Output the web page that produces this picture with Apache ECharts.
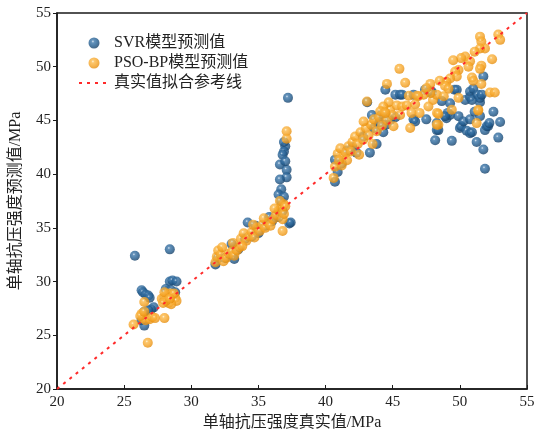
<!DOCTYPE html>
<html>
<head>
<meta charset="utf-8">
<script src="https://cdn.jsdelivr.net/npm/echarts@6/dist/echarts.min.js"></script>
<style>
  html, body { margin: 0; padding: 0; background: #fff; }
  #chart { width: 541px; height: 436px; }
</style>
</head>
<body>
<div id="chart"></div>
<script>
// Measured vs. predicted uniaxial compressive strength (MPa)
const seriesNames = ['SVR模型预测值', 'PSO-BP模型预测值', '真实值拟合参考线'];
const axisTicks = [20, 25, 30, 35, 40, 45, 50, 55];

// SVR model: [measured, predicted]
const svrPoints = [
  [25.8,32.4],[28.4,33.0],
  [26.3,29.2],[26.4,29.0],[26.6,28.8],[26.8,28.7],[26.9,28.5],
  [28.4,30.0],[28.6,30.1],[28.9,30.0],[28.1,29.3],[28.2,29.1],[28.5,29.2],[28.8,29.0],
  [27.2,27.6],[27.0,27.4],[26.5,25.9],[26.5,27.2],[26.8,27.3],[26.3,26.4],[28.0,28.3],
  [31.8,31.6],[32.0,32.2],[32.5,32.2],[33.0,32.5],[33.2,32.1],[33.5,33.0],[33.0,33.5],
  [34.0,34.0],[34.2,35.5],[34.5,34.2],[35.0,34.5],[35.5,35.2],[36.0,35.6],[36.5,36.0],
  [36.8,36.6],[37.3,35.4],[37.4,35.5],[34.8,35.2],[35.8,36.0],
  [37.2,47.1],[37.0,42.6],[36.9,42.1],[36.8,41.8],[36.6,40.9],[37.1,40.4],[37.1,39.7],
  [36.6,39.5],[36.7,38.6],[36.5,38.1],[36.7,37.5],[36.9,37.9],[37.0,41.2],[36.9,43.0],
  [40.7,39.3],[40.7,41.35],[40.9,40.2],[41.2,41.0],[41.6,42.2],[42.0,42.5],[42.3,42.0],
  [43.3,42.0],[43.1,46.7],[43.45,45.5],[42.8,43.5],[43.6,44.3],[44.0,44.8],[44.3,43.9],
  [44.5,44.6],[44.8,45.0],[45.2,45.3],[44.2,45.6],[43.8,42.8],
  [44.45,47.85],[45.2,47.4],[45.55,47.4],[45.7,47.4],[46.55,47.4],[46.55,45.1],[46.67,44.9],
  [47.5,45.1],[47.4,47.85],[47.9,47.7],[48.28,44.75],[48.28,44.1],[48.16,43.15],[48.65,46.8],
  [49.0,45.2],[49.1,45.7],[49.27,46.6],[49.27,45.5],[49.4,43.1],[49.6,47.85],[49.77,47.85],
  [49.9,45.4],[50.0,44.3],[50.1,44.45],[50.26,44.9],[50.4,46.9],[50.5,44.05],[50.76,47.2],
  [50.76,47.7],[50.76,45.1],[50.76,43.8],[50.9,43.9],[50.9,46.9],[51.0,47.95],[51.1,45.8],
  [51.25,43.0],[51.35,47.4],[51.5,46.7],[51.5,47.1],[51.5,45.4],[51.63,47.4],[51.75,49.1],
  [51.75,42.3],[51.87,40.5],[51.87,44.1],[52.0,44.45],[52.1,44.45],[52.2,44.75],[52.5,45.8],
  [52.86,43.4],[53.0,44.85],[48.4,44.1],[48.9,45.4],[47.9,47.55]
];

// PSO-BP model: [measured, predicted]
const bpPoints = [
  [26.5,28.1],[26.76,24.3],[25.7,26.0],[28.0,26.6],[26.3,27.0],[26.4,26.6],[26.6,26.4],
  [26.9,26.5],[27.1,26.7],[27.3,26.6],[26.2,26.8],[26.5,27.2],[27.8,28.4],[28.0,28.6],
  [28.2,28.8],[28.4,28.9],[28.6,28.7],[28.8,28.5],[28.9,28.2],[28.3,28.0],[28.5,27.9],
  [28.1,28.2],[27.9,28.0],[28.7,28.9],[28.0,29.0],[28.4,28.4],
  [31.8,31.8],[31.9,32.3],[32.0,32.9],[32.2,32.5],[32.4,31.9],[32.6,32.2],[32.8,32.6],
  [33.0,32.8],[33.2,32.4],[33.4,32.9],[33.6,33.2],[33.1,33.6],[33.7,34.0],[33.9,34.5],
  [34.1,33.8],[34.3,34.2],[34.5,34.6],[34.7,34.1],[34.9,35.0],[35.1,34.7],[35.3,35.3],
  [35.5,35.0],[35.7,35.5],[35.9,35.2],[36.1,35.8],[36.3,36.2],[36.5,36.6],[36.7,36.9],
  [36.9,37.2],[36.6,37.5],[36.2,36.8],[35.4,35.9],[34.6,35.3],[33.8,33.3],[32.3,33.2],
  [36.8,34.7],[36.8,35.8],[37.1,44.0],[37.1,43.3],[36.9,36.3],[37.0,37.0],
  [40.6,39.65],[40.7,40.7],[40.9,41.9],[41.1,42.4],[41.3,41.6],[41.5,42.0],[41.7,42.6],
  [41.9,42.1],[41.2,40.8],[41.6,41.3],[42.0,43.0],[42.2,43.5],[42.4,42.8],[42.6,43.9],
  [42.8,43.2],[43.0,44.3],[43.2,43.6],[43.4,44.6],[43.6,45.1],[43.8,44.0],[44.0,45.3],
  [44.2,44.5],[44.4,45.8],[44.6,45.0],[44.8,46.0],[45.0,45.5],[43.08,46.77],[42.83,44.9],
  [45.06,44.45],[46.3,44.3],[42.5,41.8],[41.0,41.3],[43.5,42.8],
  [44.57,48.4],[45.93,48.5],[46.2,47.3],[46.8,47.3],[44.7,46.7],[44.3,46.3],[44.07,45.85],
  [44.45,45.7],[45.3,46.4],[45.7,46.3],[46.05,46.4],[46.4,45.7],[47.0,45.7],[48.0,46.9],
  [48.3,45.7],[48.4,44.6],[49.4,46.0],[49.9,47.1],[51.37,46.0],[51.25,44.75],[52.24,47.6],
  [52.6,47.6],[52.86,53.0],[53.0,52.5],[51.5,52.8],[51.6,52.35],[51.87,51.7],[51.5,51.7],
  [51.1,51.4],[50.4,50.95],[50.1,50.8],[49.5,50.6],[52.4,50.7],[50.76,50.5],[50.64,50.0],
  [51.6,50.1],[51.5,49.8],[49.9,49.7],[49.65,49.55],[49.77,49.1],[49.27,48.9],[50.9,49.0],
  [51.0,48.7],[51.6,48.4],[49.0,48.6],[48.5,48.7],[48.9,48.2],[47.8,48.4],[49.15,47.95],
  [48.28,47.4],[48.8,47.25],[47.8,47.55],[47.3,47.4],[46.9,47.25],[46.67,46.5],[47.66,46.3],
  [48.4,45.6],[51.37,45.9],[48.28,44.6],[45.55,45.5],[47.5,48.0],[45.5,49.8]
];

// 1:1 reference line endpoints
const refLine = [[20, 20], [55, 55]];

const serif = "'Liberation Serif', 'Times New Roman', 'Noto Sans CJK SC', serif";

// glossy sphere fill for scatter markers
function ball(light, mid, dark, edge) {
  return {
    type: 'radial', x: 0.4, y: 0.36, r: 0.66,
    colorStops: [
      { offset: 0, color: light },
      { offset: 0.2, color: mid },
      { offset: 0.6, color: dark },
      { offset: 1, color: edge }
    ]
  };
}

const chart = echarts.init(document.getElementById('chart'), null, { renderer: 'canvas' });

const axisCommon = {
  type: 'value',
  min: axisTicks[0],
  max: axisTicks[axisTicks.length - 1],
  interval: 5,
  splitLine: { show: false },
  axisLine: { show: true, lineStyle: { color: '#1a1a1a', width: 1.5 } },
  axisLabel: { color: '#222', fontFamily: serif, fontSize: 15 },
  nameLocation: 'middle',
  nameTextStyle: { color: '#222', fontFamily: serif, fontSize: 16 }
};

chart.setOption({
  animation: false,
  backgroundColor: '#fff',
  grid: {
    left: 56, right: 14, top: 13, bottom: 46,
    show: true, borderColor: '#1a1a1a', borderWidth: 1.5, backgroundColor: 'transparent'
  },
  legend: {
    orient: 'vertical',
    left: 73, top: 30,
    itemWidth: 30, itemHeight: 11, itemGap: 4,
    textStyle: { fontFamily: serif, fontSize: 16, color: '#222', lineHeight: 16 },
    data: [
      { name: seriesNames[0], icon: 'circle' },
      { name: seriesNames[1], icon: 'circle' },
      { name: seriesNames[2], itemStyle: { color: 'rgba(0,0,0,0)', borderColor: 'rgba(0,0,0,0)', borderWidth: 0 } }
    ]
  },
  xAxis: Object.assign({}, axisCommon, {
    name: '单轴抗压强度真实值/MPa',
    nameGap: 26,
    axisTick: { show: true, inside: true, length: 4, lineStyle: { color: '#1a1a1a' } },
    axisLabel: Object.assign({}, axisCommon.axisLabel, { margin: 6 })
  }),
  yAxis: Object.assign({}, axisCommon, {
    name: '单轴抗压强度预测值/MPa',
    nameGap: 33,
    axisTick: { show: true, inside: false, length: 4, lineStyle: { color: '#1a1a1a' } },
    axisLabel: Object.assign({}, axisCommon.axisLabel, { margin: 6 })
  }),
  series: [
    {
      name: seriesNames[0],
      type: 'scatter',
      symbolSize: 10,
      data: svrPoints,
      itemStyle: { color: ball('#d4e3f1', '#3f78aa', '#225d90', '#163f66') },
      z: 2
    },
    {
      name: seriesNames[1],
      type: 'scatter',
      symbolSize: 10,
      data: bpPoints,
      itemStyle: { color: ball('#fff2d2', '#fbb94a', '#f6a528', '#e48c0c') },
      z: 3
    },
    {
      name: seriesNames[2],
      type: 'line',
      data: refLine,
      symbol: 'none',
      legendIcon: 'none',
      lineStyle: { color: '#ff2a2a', width: 2, type: [3, 5] },
      itemStyle: { color: '#ff2a2a' },
      z: 5
    }
  ]
});
</script>
</body>
</html>
